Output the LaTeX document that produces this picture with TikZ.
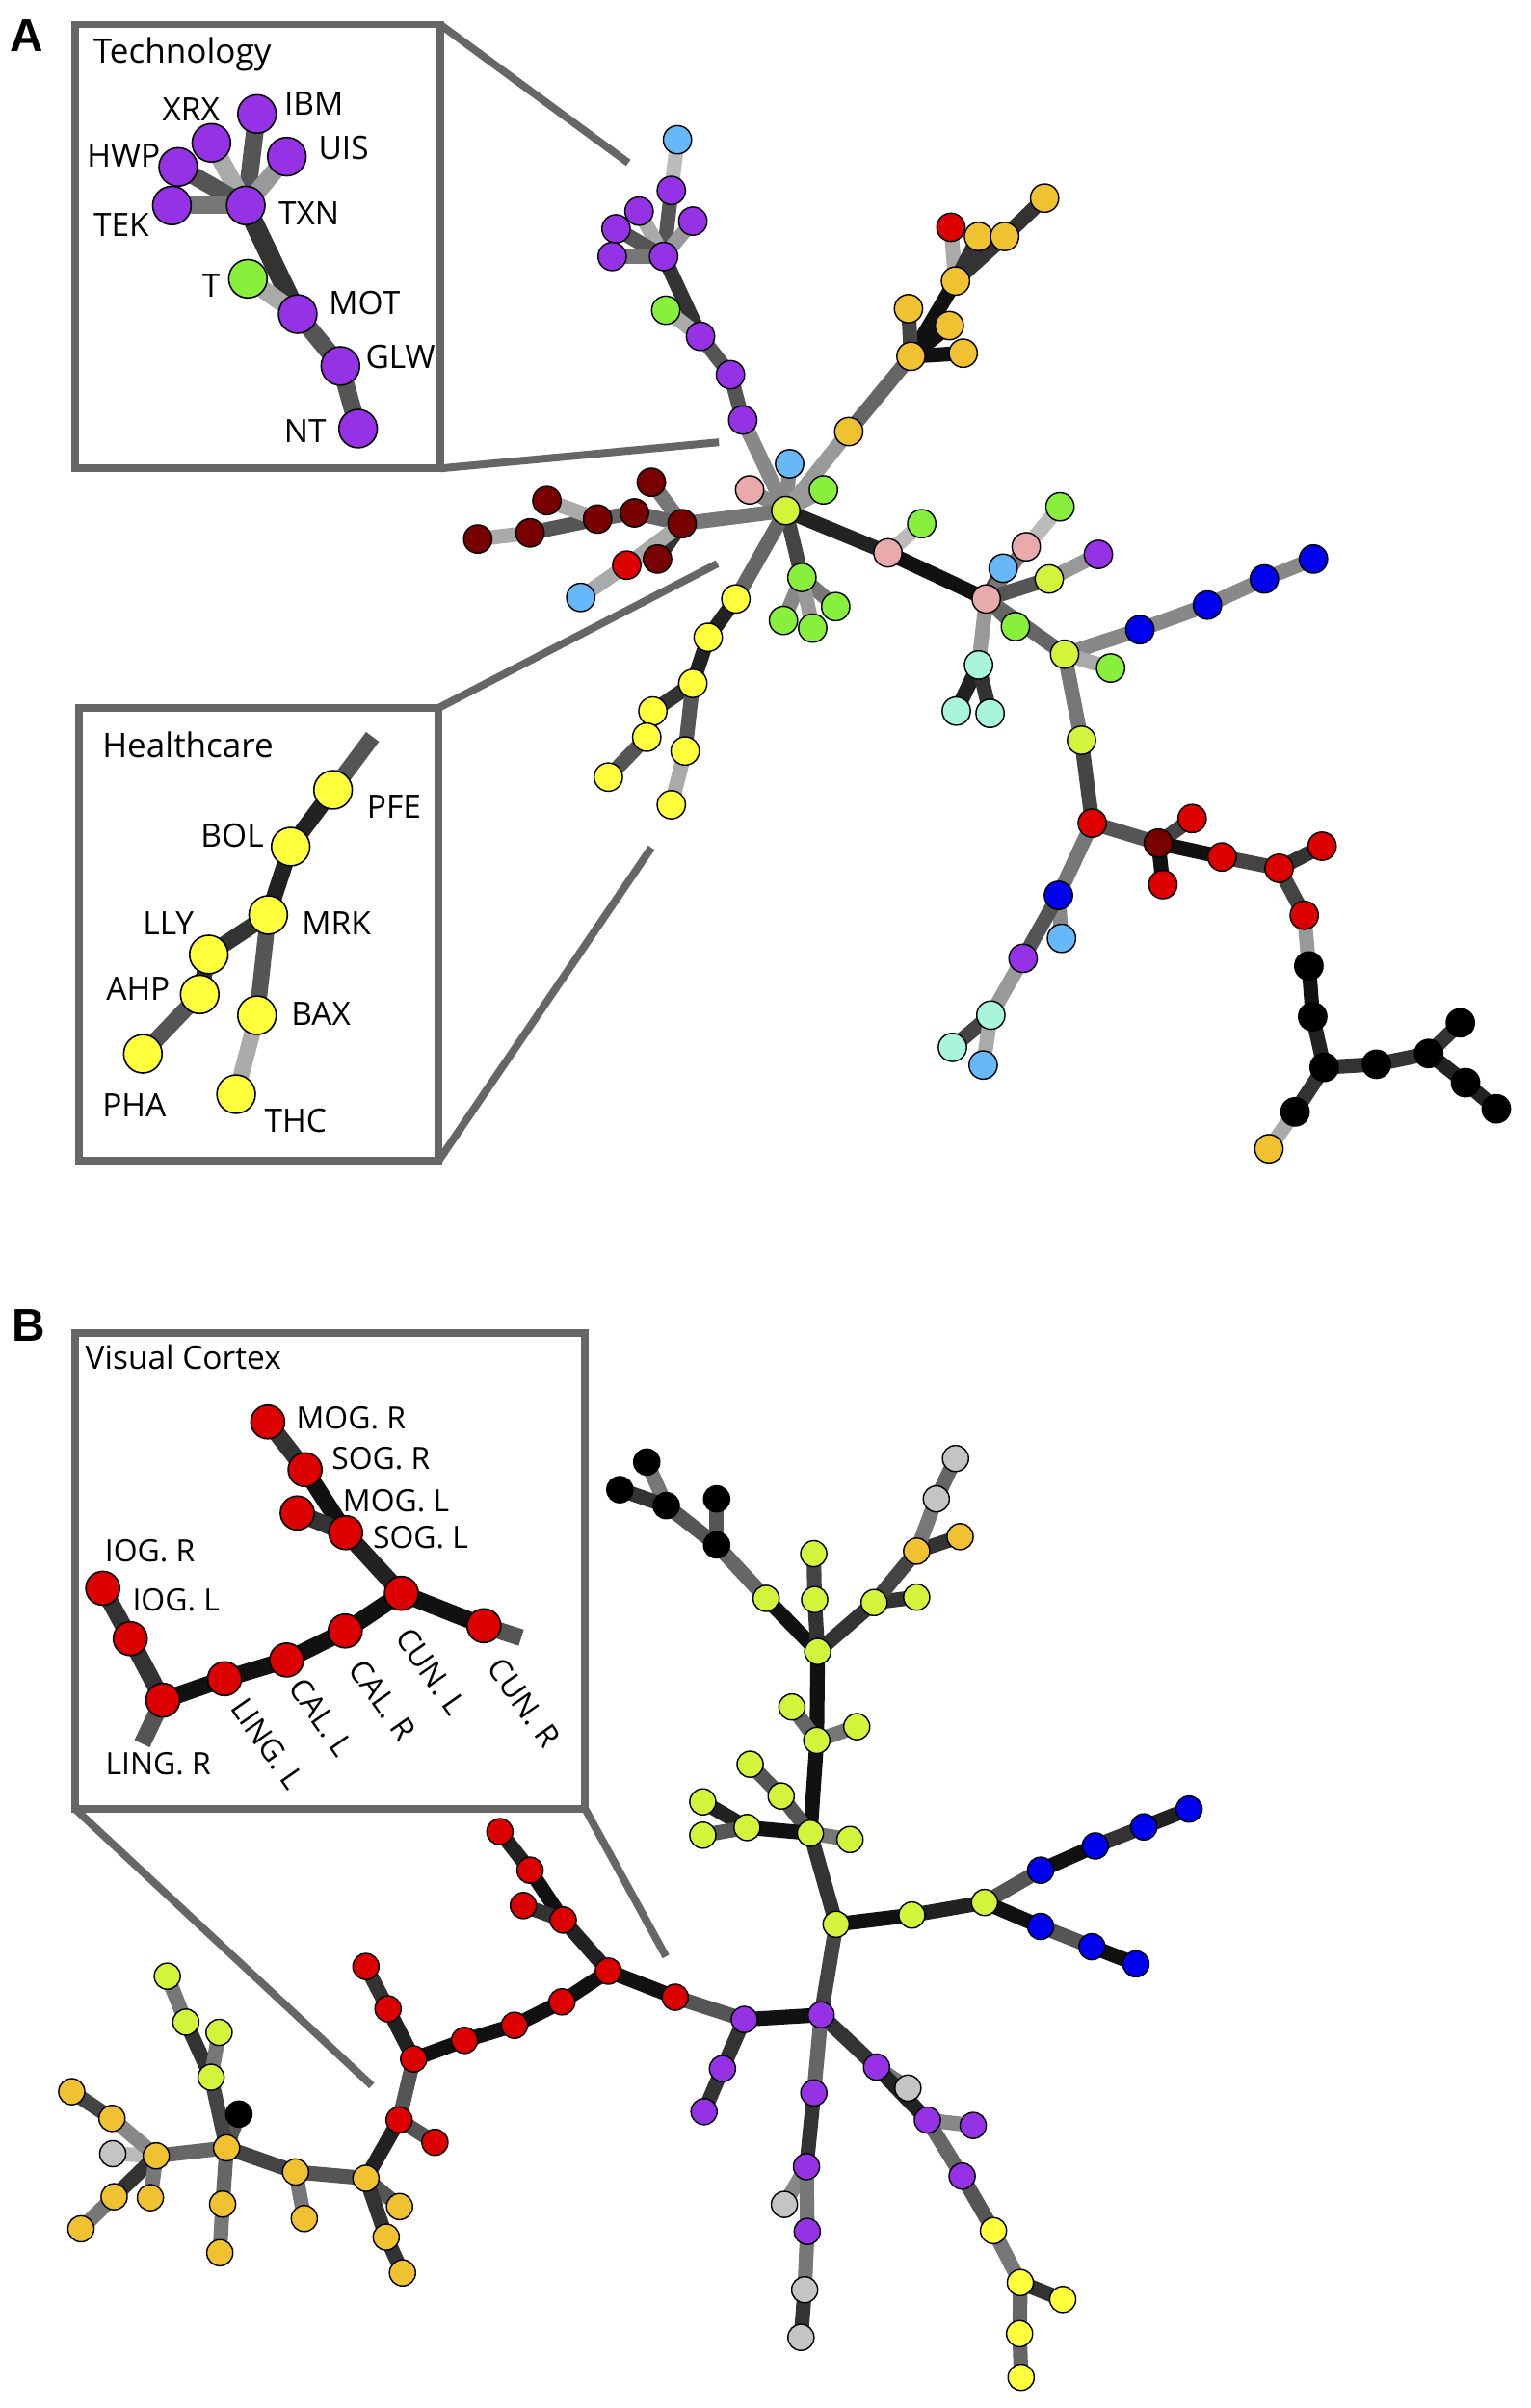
\documentclass[tikz,border=0pt]{standalone}
\usepackage{fontspec}
\setmainfont{Open Sans}
\newfontfamily\panelfont{Liberation Sans}
\definecolor{cpur}{HTML}{9632E6}
\definecolor{cyg}{HTML}{D2F53C}
\definecolor{cgrn}{HTML}{88F03C}
\definecolor{clb}{HTML}{66B8F8}
\definecolor{cpk}{HTML}{E8AAAA}
\definecolor{corg}{HTML}{F0C232}
\definecolor{cred}{HTML}{DD0000}
\definecolor{cdr}{HTML}{780000}
\definecolor{caq}{HTML}{A8F5DC}
\definecolor{cblu}{HTML}{0000EE}
\definecolor{cblk}{HTML}{000000}
\definecolor{cyel}{HTML}{FFFF3C}
\definecolor{cgry}{HTML}{C4C4C4}
\definecolor{e1}{HTML}{111111}
\definecolor{e2}{HTML}{222222}
\definecolor{e3}{HTML}{333333}
\definecolor{e4}{HTML}{444444}
\definecolor{e5}{HTML}{555555}
\definecolor{e6}{HTML}{666666}
\definecolor{e7}{HTML}{777777}
\definecolor{e8}{HTML}{888888}
\definecolor{e9}{HTML}{999999}
\definecolor{ea}{HTML}{AAAAAA}
\definecolor{eb}{HTML}{BBBBBB}
\definecolor{boxc}{HTML}{666666}
\pgfdeclarelayer{edges}
\pgfsetlayers{edges,main}
\newcommand\nd[5][na]{\node[#1,fill=#3] (#2) at (#4,#5) {};}
\newcommand\edg[4][9.5pt]{\draw[line width=#1,draw=#2] (#3.center)--(#4.center);}
\tikzset{
  na/.style={circle,draw=black,line width=0.9pt,inner sep=0pt,minimum size=18.4pt},
  nbb/.style={circle,draw=black,line width=0.9pt,inner sep=0pt,minimum size=17pt},
  ni/.style={circle,draw=black,line width=1pt,inner sep=0pt,minimum size=25pt},
  nv/.style={circle,draw=black,line width=1pt,inner sep=0pt,minimum size=22pt},
  lab/.style={font=\fontsize{21}{25}\selectfont,inner sep=0pt},
  labv/.style={font=\fontsize{20}{24}\selectfont,inner sep=0pt},
  ttl/.style={font=\fontsize{22}{26}\selectfont,inner sep=0pt,anchor=base west},
  pnl/.style={font=\panelfont\bfseries\fontsize{30}{34}\selectfont,inner sep=0pt},
  boxl/.style={draw=boxc,line width=5pt},
}
\begin{document}
\begin{tikzpicture}[x=1pt,y=-1pt]
\useasboundingbox (0,0) rectangle (996,1568);

% ================= PANEL A =================
\node[pnl] (lblA) at (17.6,23) {A};

% Technology inset box
\coordinate (tb1) at (49,16);
\coordinate (tb2) at (286.5,16);
\coordinate (tb3) at (286.5,305);
\coordinate (tb4) at (49,305);
\coordinate (tl1) at (409,106);
\coordinate (tl2) at (468,288);
\draw[boxl] (tb1) -- (tb2) -- (tb3) -- (tb4) -- cycle;
\draw[boxl] (tb2) -- (tl1);
\draw[boxl] (tb3) -- (tl2);
\node[ttl] (ttech) at (60.6,40.8) {Technology};

\nd[ni]{t_ibm}{cpur}{167.3}{74.2}
\nd[ni]{t_xrx}{cpur}{137.6}{93}
\nd[ni]{t_uis}{cpur}{186.7}{102}
\nd[ni]{t_hwp}{cpur}{116}{108.7}
\nd[ni]{t_tek}{cpur}{111.9}{133.8}
\nd[ni]{t_txn}{cpur}{160}{133.8}
\nd[ni]{t_t}{cgrn}{161.4}{181.5}
\nd[ni]{t_mot}{cpur}{193.8}{204.5}
\nd[ni]{t_glw}{cpur}{221.6}{238.3}
\nd[ni]{t_nt}{cpur}{233.1}{279.1}
\node[lab] (lt_ibm) at (204.3,67.3) {IBM};
\node[lab] (lt_xrx) at (124.4,71.5) {XRX};
\node[lab] (lt_uis) at (223.7,96.6) {UIS};
\node[lab] (lt_hwp) at (80.5,101.4) {HWP};
\node[lab] (lt_tek) at (79,146.4) {TEK};
\node[lab] (lt_txn) at (201.1,139) {TXN};
\node[lab] (lt_t) at (137.4,186) {T};
\node[lab] (lt_mot) at (237.3,197.2) {MOT};
\node[lab] (lt_glw) at (260.7,232.5) {GLW};
\node[lab] (lt_nt) at (198.6,280.6) {NT};

% Healthcare inset box
\coordinate (hb1) at (51.6,461);
\coordinate (hb2) at (285.4,461);
\coordinate (hb3) at (285.4,756);
\coordinate (hb4) at (51.6,756);
\coordinate (hl1) at (467,367);
\coordinate (hl2) at (424,552);
\draw[boxl] (hb1) -- (hb2) -- (hb3) -- (hb4) -- cycle;
\draw[boxl] (hb2) -- (hl1);
\draw[boxl] (hb3) -- (hl2);
\node[ttl] (thealth) at (66.5,493) {Healthcare};
\coordinate (h_top) at (242.5,479.8);
\nd[ni]{h_pfe}{cyel}{216.8}{514.3}
\nd[ni]{h_bol}{cyel}{189.2}{551.3}
\nd[ni]{h_mrk}{cyel}{174.6}{595.8}
\nd[ni]{h_lly}{cyel}{135.9}{621.5}
\nd[ni]{h_ahp}{cyel}{130}{647.5}
\nd[ni]{h_bax}{cyel}{167.3}{661.1}
\nd[ni]{h_pha}{cyel}{93}{686.2}
\nd[ni]{h_thc}{cyel}{153.7}{712.5}
\node[lab] (lh_pfe) at (256.5,525) {PFE};
\node[lab] (lh_bol) at (151.2,544.4) {BOL};
\node[lab] (lh_mrk) at (219,601) {MRK};
\node[lab] (lh_lly) at (109.6,601) {LLY};
\node[lab] (lh_ahp) at (89.9,644) {AHP};
\node[lab] (lh_bax) at (209,660) {BAX};
\node[lab] (lh_pha) at (87.4,719.4) {PHA};
\node[lab] (lh_thc) at (192.4,729.6) {THC};

% main graph A
\nd{a_lb1}{clb}{441}{91}
\nd{a_ibm}{cpur}{437}{124}
\nd{a_xrx}{cpur}{416}{137.5}
\nd{a_hwp}{cpur}{401}{149}
\nd{a_uis}{cpur}{451}{144}
\nd{a_tek}{cpur}{398.5}{167}
\nd{a_txn}{cpur}{432}{167}
\nd{a_t}{cgrn}{433.4}{202}
\nd{a_mot}{cpur}{456}{219}
\nd{a_glw}{cpur}{475.5}{244}
\nd{a_nt}{cpur}{483.5}{273.5}
\nd{hub}{cyg}{511.5}{332.5}
\nd{a_pk1}{cpk}{488}{319}
\nd{a_lb2}{clb}{514}{302}
\nd{a_g1}{cgrn}{536}{319}
\nd{a_o1}{corg}{552.5}{281}
\nd{a_o2}{corg}{593}{232}
\nd{a_o3}{corg}{627}{230}
\nd{a_o4}{corg}{618}{212}
\nd{a_o5}{corg}{591.4}{201}
\nd{a_o6}{corg}{622}{183}
\nd{a_r1}{cred}{619}{148}
\nd{a_o7}{corg}{637}{154}
\nd{a_o8}{corg}{654}{154}
\nd{a_o9}{corg}{680}{129}
\nd{a_d1}{cdr}{444}{341}
\nd{a_d2}{cdr}{424}{314}
\nd{a_d3}{cdr}{413}{334}
\nd{a_d4}{cdr}{389}{338}
\nd{a_d5}{cdr}{356}{326}
\nd{a_d6}{cdr}{345}{347}
\nd{a_d7}{cdr}{311}{351}
\nd{a_d8}{cdr}{428}{364}
\nd{a_r2}{cred}{408}{368}
\nd{a_lb3}{clb}{378}{389}
\nd{a_g2}{cgrn}{522}{376}
\nd{a_g3}{cgrn}{544}{395}
\nd{a_g4}{cgrn}{510}{404}
\nd{a_g5}{cgrn}{529}{409}
\nd{a_pfe}{cyel}{479}{390}
\nd{a_bol}{cyel}{461}{415}
\nd{a_mrk}{cyel}{451}{445}
\nd{a_lly}{cyel}{425}{463}
\nd{a_ahp}{cyel}{421}{480}
\nd{a_pha}{cyel}{396}{506}
\nd{a_bax}{cyel}{446}{489}
\nd{a_thc}{cyel}{437}{524}
\nd{a_pk2}{cpk}{578}{360}
\nd{a_g6}{cgrn}{600}{341}
\nd{a_pk3}{cpk}{642}{390}
\nd{a_pk4}{cpk}{668}{356}
\nd{a_g7}{cgrn}{690}{330}
\nd{a_lb4}{clb}{653}{370}
\nd{a_yg1}{cyg}{683}{377}
\nd{a_pu1}{cpur}{715}{361}
\nd{a_g8}{cgrn}{661}{408}
\nd{a_yg2}{cyg}{693}{426}
\nd{a_b1}{cblu}{742}{410}
\nd{a_b2}{cblu}{786}{394}
\nd{a_b3}{cblu}{823}{377}
\nd{a_b4}{cblu}{855}{364}
\nd{a_g9}{cgrn}{723}{435}
\nd{a_aq1}{caq}{637}{433}
\nd{a_aq2}{caq}{622.5}{463}
\nd{a_aq3}{caq}{644.5}{464.5}
\nd{a_yg3}{cyg}{704}{482}
\nd{a_r3}{cred}{711}{536}
\nd{a_dr}{cdr}{754}{549}
\nd{a_r4}{cred}{776}{533}
\nd{a_r5}{cred}{757}{576}
\nd{a_r6}{cred}{795.5}{558}
\nd{a_r7}{cred}{832.6}{565.4}
\nd{a_r8}{cred}{860.6}{551}
\nd{a_r9}{cred}{849}{596}
\nd{a_k1}{cblk}{852}{629}
\nd{a_k2}{cblk}{854.5}{662}
\nd{a_k3}{cblk}{862}{695}
\nd{a_k4}{cblk}{896}{693}
\nd{a_k5}{cblk}{930}{686}
\nd{a_k6}{cblk}{950.6}{666}
\nd{a_k7}{cblk}{954}{705}
\nd{a_k8}{cblk}{974}{722}
\nd{a_k9}{cblk}{843}{724}
\nd{a_o10}{corg}{826}{748}
\nd{a_b5}{cblu}{689}{583}
\nd{a_lb5}{clb}{691}{611}
\nd{a_pu2}{cpur}{666}{624}
\nd{a_aq4}{caq}{645}{661}
\nd{a_aq5}{caq}{620}{682}
\nd{a_lb6}{clb}{640}{693.5}

% ================= PANEL B =================
\node[pnl] (lblB) at (18.5,863) {B};
\coordinate (vb1) at (49,868);
\coordinate (vb2) at (381,868);
\coordinate (vb3) at (381,1178);
\coordinate (vb4) at (49,1178);
\coordinate (vl1) at (242,1358);
\coordinate (vl2) at (433.5,1274);
\draw[boxl] (vb1) -- (vb2) -- (vb3) -- (vb4) -- cycle;
\draw[boxl] (vb4) -- (vl1);
\draw[boxl] (vb3) -- (vl2);
\node[ttl,font=\fontsize{21}{25}\selectfont] (tvis) at (55.4,891.8) {Visual Cortex};
\coordinate (v_cunrs) at (339.3,1066.4);
\coordinate (v_lingrs) at (92.5,1135.4);
\nd[nv]{v_mogr}{cred}{174.3}{925.9}
\nd[nv]{v_sogr}{cred}{198.6}{957}
\nd[nv]{v_mogl}{cred}{193.5}{985.2}
\nd[nv]{v_sogl}{cred}{225}{998}
\nd[nv]{v_iogr}{cred}{66.9}{1034.2}
\nd[nv]{v_iogl}{cred}{84.8}{1067}
\nd[nv]{v_cunl}{cred}{261.3}{1037.5}
\nd[nv]{v_cunr}{cred}{315}{1058.6}
\nd[nv]{v_calr}{cred}{224.7}{1062}
\nd[nv]{v_call}{cred}{186.6}{1080.9}
\nd[nv]{v_lingl}{cred}{146.2}{1093.1}
\nd[nv]{v_lingr}{cred}{106}{1107.1}
\node[labv] (lv_mogr) at (228.5,923.5) {MOG. R};
\node[labv] (lv_sogr) at (248,949.7) {SOG. R};
\node[labv] (lv_mogl) at (257.8,977.5) {MOG. L};
\node[labv] (lv_sogl) at (273.8,1000.8) {SOG. L};
\node[labv] (lv_iogr) at (97.6,1009.8) {IOG. R};
\node[labv] (lv_iogl) at (114.6,1042) {IOG. L};
\node[labv] (lv_lingr) at (103,1148.2) {LING. R};
\node[labv,rotate=-55] (lv_lingl) at (174.3,1135.4) {LING. L};
\node[labv,rotate=-55] (lv_call) at (209.4,1118.2) {CAL. L};
\node[labv,rotate=-55] (lv_calr) at (249,1106.9) {CAL. R};
\node[labv,rotate=-55] (lv_cunl) at (280.5,1088.2) {CUN. L};
\node[labv,rotate=-55] (lv_cunr) at (341.1,1108.7) {CUN. R};

% main graph B
\nd[nbb]{b_k1}{cblk}{421}{952}
\nd[nbb]{b_k2}{cblk}{403.5}{970}
\nd[nbb]{b_k3}{cblk}{433.7}{980.4}
\nd[nbb]{b_k4}{cblk}{466.5}{976}
\nd[nbb]{b_k5}{cblk}{466.5}{1006}
\nd[nbb]{b_s1}{cgry}{622}{949.7}
\nd[nbb]{b_s2}{cgry}{609.5}{976}
\nd[nbb]{b_o1}{corg}{625}{1000.6}
\nd[nbb]{b_o2}{corg}{596.7}{1010}
\nd[nbb]{b_y1}{cyg}{529.7}{1011.7}
\nd[nbb]{b_y2}{cyg}{498.7}{1040.8}
\nd[nbb]{b_y3}{cyg}{530.3}{1041.6}
\nd[nbb]{b_y4}{cyg}{569}{1043.5}
\nd[nbb]{b_y5}{cyg}{596.7}{1040}
\nd[nbb]{b_y6}{cyg}{532.3}{1075.4}
\nd[nbb]{b_y7}{cyg}{515.5}{1111.5}
\nd[nbb]{b_y8}{cyg}{531.7}{1133.3}
\nd[nbb]{b_y9}{cyg}{557.7}{1124.3}
\nd[nbb]{b_y10}{cyg}{488.3}{1148.8}
\nd[nbb]{b_y11}{cyg}{508.5}{1169.5}
\nd[nbb]{b_y12}{cyg}{457.5}{1173.3}
\nd[nbb]{b_y13}{cyg}{457.5}{1195}
\nd[nbb]{b_y14}{cyg}{486.3}{1190}
\nd[nbb]{b_y15}{cyg}{527.5}{1193.7}
\nd[nbb]{b_y16}{cyg}{553.3}{1197.8}
\nd[nbb]{b_y17}{cyg}{544.3}{1253}
\nd[nbb]{b_y18}{cyg}{593.6}{1247}
\nd[nbb]{b_y19}{cyg}{640.9}{1238.8}
\nd[nbb]{b_b1}{cblu}{677.4}{1217.8}
\nd[nbb]{b_b2}{cblu}{713}{1202}
\nd[nbb]{b_b3}{cblu}{744.6}{1189.6}
\nd[nbb]{b_b4}{cblu}{774}{1178}
\nd[nbb]{b_b5}{cblu}{677.4}{1254.4}
\nd[nbb]{b_b6}{cblu}{710.8}{1267.6}
\nd[nbb]{b_b7}{cblu}{739.4}{1278.8}
\nd[nbb]{b_p1}{cpur}{484.5}{1315}
\nd[nbb]{b_p2}{cpur}{534.5}{1312}
\nd[nbb]{b_p3}{cpur}{470.3}{1347}
\nd[nbb]{b_p4}{cpur}{458.3}{1375}
\nd[nbb]{b_p5}{cpur}{570.6}{1346}
\nd[nbb]{b_s3}{cgry}{591}{1359.7}
\nd[nbb]{b_p6}{cpur}{603.7}{1380.5}
\nd[nbb]{b_p7}{cpur}{633.5}{1384}
\nd[nbb]{b_p8}{cpur}{626.3}{1417}
\nd[nbb]{b_w1}{cyel}{646.7}{1452.5}
\nd[nbb]{b_w2}{cyel}{664.2}{1486.3}
\nd[nbb]{b_w3}{cyel}{691.8}{1497.3}
\nd[nbb]{b_w4}{cyel}{663.7}{1519.6}
\nd[nbb]{b_w5}{cyel}{664.7}{1548}
\nd[nbb]{b_p9}{cpur}{529.8}{1362.8}
\nd[nbb]{b_p10}{cpur}{525}{1410.8}
\nd[nbb]{b_s4}{cgry}{510.6}{1435.4}
\nd[nbb]{b_p11}{cpur}{525.5}{1453}
\nd[nbb]{b_s5}{cgry}{523.8}{1491}
\nd[nbb]{b_s6}{cgry}{521.4}{1522}
\nd[nbb]{b_r1}{cred}{325.4}{1192.7}
\nd[nbb]{b_r2}{cred}{345}{1217.8}
\nd[nbb]{b_r3}{cred}{340.7}{1240.8}
\nd[nbb]{b_r4}{cred}{366.6}{1250.2}
\nd[nbb]{b_r5}{cred}{396}{1283.5}
\nd[nbb]{b_r6}{cred}{439.5}{1300.5}
\nd[nbb]{b_r7}{cred}{365.8}{1303.5}
\nd[nbb]{b_r8}{cred}{334.9}{1318.8}
\nd[nbb]{b_r9}{cred}{302.4}{1328.6}
\nd[nbb]{b_r10}{cred}{269.3}{1340.7}
\nd[nbb]{b_r11}{cred}{238.2}{1280.5}
\nd[nbb]{b_r12}{cred}{252.6}{1308.1}
\nd[nbb]{b_r13}{cred}{259.8}{1380.4}
\nd[nbb]{b_r14}{cred}{283.1}{1395}
\nd[nbb]{b_o3}{corg}{238.2}{1418.4}
\nd[nbb]{b_o4}{corg}{260.1}{1436.8}
\nd[nbb]{b_o5}{corg}{251.4}{1456.7}
\nd[nbb]{b_o6}{corg}{262}{1480}
\nd[nbb]{b_o7}{corg}{192.4}{1414.3}
\nd[nbb]{b_o8}{corg}{198.1}{1444.6}
\nd[nbb]{b_o9}{corg}{147.5}{1398.6}
\nd[nbb]{b_o10}{corg}{144.9}{1435.2}
\nd[nbb]{b_o11}{corg}{143.1}{1466.9}
\nd[nbb]{b_k6}{cblk}{155.5}{1376.6}
\nd[nbb]{b_y20}{cyg}{137.4}{1352.6}
\nd[nbb]{b_y21}{cyg}{121}{1316.7}
\nd[nbb]{b_y22}{cyg}{142.6}{1323.4}
\nd[nbb]{b_y23}{cyg}{108.9}{1286.8}
\nd[nbb]{b_o12}{corg}{101.7}{1403.8}
\nd[nbb]{b_s7}{cgry}{73.4}{1402.4}
\nd[nbb]{b_o13}{corg}{72.9}{1379.4}
\nd[nbb]{b_o14}{corg}{46.7}{1362}
\nd[nbb]{b_o15}{corg}{74.3}{1430.4}
\nd[nbb]{b_o16}{corg}{52.7}{1451.3}
\nd[nbb]{b_o17}{corg}{97.9}{1431}

\begin{pgfonlayer}{edges}
% Technology inset
\edg[11.5pt]{e5}{t_ibm}{t_txn}
\edg[11.5pt]{ea}{t_xrx}{t_txn}
\edg[11.5pt]{e9}{t_uis}{t_txn}
\edg[11.5pt]{e5}{t_hwp}{t_txn}
\edg[11.5pt]{e7}{t_tek}{t_txn}
\edg[12.5pt]{e3}{t_txn}{t_mot}
\edg[11.5pt]{ea}{t_t}{t_mot}
\edg[11.5pt]{e5}{t_mot}{t_glw}
\edg[11.5pt]{e5}{t_glw}{t_nt}
% Healthcare inset
\edg[10.5pt]{e5}{h_top}{h_pfe}
\edg[10.5pt]{e2}{h_pfe}{h_bol}
\edg[10.5pt]{e2}{h_bol}{h_mrk}
\edg[10.5pt]{e3}{h_mrk}{h_lly}
\edg[10.5pt]{e3}{h_lly}{h_ahp}
\edg[10.5pt]{e5}{h_ahp}{h_pha}
\edg[10.5pt]{e5}{h_mrk}{h_bax}
\edg[10.5pt]{ea}{h_bax}{h_thc}
% main A
\edg{eb}{a_lb1}{a_ibm}
\edg{e5}{a_ibm}{a_txn}
\edg{ea}{a_xrx}{a_txn}
\edg{e9}{a_uis}{a_txn}
\edg{e5}{a_hwp}{a_txn}
\edg{e7}{a_tek}{a_txn}
\edg{e3}{a_txn}{a_mot}
\edg{ea}{a_t}{a_mot}
\edg{e5}{a_mot}{a_glw}
\edg{e5}{a_glw}{a_nt}
\edg{e8}{a_nt}{hub}
\edg{e8}{hub}{a_pk1}
\edg{e8}{hub}{a_lb2}
\edg{e9}{hub}{a_g1}
\edg{e9}{hub}{a_o1}
\edg{e6}{a_o1}{a_o2}
\edg{e1}{a_o2}{a_o6}
\edg{e4}{a_o2}{a_o5}
\edg{e1}{a_o2}{a_o4}
\edg{e1}{a_o2}{a_o3}
\edg{ea}{a_o6}{a_r1}
\edg{e3}{a_o6}{a_o7}
\edg{e3}{a_o6}{a_o8}
\edg{e3}{a_o8}{a_o9}
\edg{e7}{hub}{a_d1}
\edg{e7}{a_d1}{a_d2}
\edg{e6}{a_d1}{a_d3}
\edg{e6}{a_d3}{a_d4}
\edg{e5}{a_d4}{a_d6}
\edg{ea}{a_d5}{a_d4}
\edg{ea}{a_d6}{a_d7}
\edg{e3}{a_d1}{a_d8}
\edg{ea}{a_d1}{a_r2}
\edg{ea}{a_r2}{a_lb3}
\edg{e4}{hub}{a_g2}
\edg{e7}{a_g2}{a_g3}
\edg{e8}{a_g2}{a_g4}
\edg{e9}{a_g2}{a_g5}
\edg{e6}{hub}{a_pfe}
\edg{e2}{a_pfe}{a_bol}
\edg{e2}{a_bol}{a_mrk}
\edg{e3}{a_mrk}{a_lly}
\edg{e3}{a_lly}{a_ahp}
\edg{e5}{a_ahp}{a_pha}
\edg{e5}{a_mrk}{a_bax}
\edg{ea}{a_bax}{a_thc}
\edg{e2}{hub}{a_pk2}
\edg{eb}{a_pk2}{a_g6}
\edg{e1}{a_pk2}{a_pk3}
\edg{e4}{a_pk3}{a_lb4}
\edg{e7}{a_pk3}{a_pk4}
\edg{eb}{a_pk4}{a_g7}
\edg{e5}{a_pk3}{a_yg1}
\edg{e9}{a_yg1}{a_pu1}
\edg{e6}{a_pk3}{a_g8}
\edg{e6}{a_pk3}{a_yg2}
\edg{e8}{a_yg2}{a_b1}
\edg{e8}{a_b1}{a_b2}
\edg{e8}{a_b2}{a_b3}
\edg{e8}{a_b3}{a_b4}
\edg{ea}{a_yg2}{a_g9}
\edg{e9}{a_pk3}{a_aq1}
\edg{e2}{a_aq1}{a_aq2}
\edg{e3}{a_aq1}{a_aq3}
\edg{e7}{a_yg2}{a_yg3}
\edg{e4}{a_yg3}{a_r3}
\edg{e5}{a_r3}{a_dr}
\edg{e4}{a_dr}{a_r4}
\edg{e1}{a_dr}{a_r5}
\edg{e1}{a_dr}{a_r6}
\edg{e4}{a_r6}{a_r7}
\edg{e3}{a_r7}{a_r8}
\edg{e4}{a_r7}{a_r9}
\edg{e9}{a_r9}{a_k1}
\edg{e1}{a_k1}{a_k2}
\edg{e2}{a_k2}{a_k3}
\edg{e3}{a_k3}{a_k4}
\edg{e3}{a_k4}{a_k5}
\edg{e3}{a_k5}{a_k6}
\edg{e2}{a_k5}{a_k7}
\edg{e2}{a_k7}{a_k8}
\edg{e3}{a_k3}{a_k9}
\edg{ea}{a_k9}{a_o10}
\edg{e7}{a_r3}{a_b5}
\edg{e8}{a_b5}{a_lb5}
\edg{e5}{a_b5}{a_pu2}
\edg{e9}{a_pu2}{a_aq4}
\edg{e4}{a_aq4}{a_aq5}
\edg{ea}{a_aq4}{a_lb6}
% Visual cortex inset
\edg[11pt]{e3}{v_mogr}{v_sogr}
\edg[11pt]{e1}{v_sogr}{v_sogl}
\edg[11pt]{e3}{v_mogl}{v_sogl}
\edg[11pt]{e2}{v_sogl}{v_cunl}
\edg[11pt]{e1}{v_cunl}{v_cunr}
\edg[11pt]{e5}{v_cunr}{v_cunrs}
\edg[11pt]{e1}{v_cunl}{v_calr}
\edg[11pt]{e1}{v_calr}{v_call}
\edg[11pt]{e1}{v_call}{v_lingl}
\edg[11pt]{e1}{v_lingl}{v_lingr}
\edg[11pt]{e3}{v_lingr}{v_iogl}
\edg[11pt]{e3}{v_iogl}{v_iogr}
\edg[11pt]{e5}{v_lingr}{v_lingrs}
% main B
\edg{e7}{b_k1}{b_k3}
\edg{e3}{b_k2}{b_k3}
\edg{e5}{b_k3}{b_k5}
\edg{e5}{b_k4}{b_k5}
\edg{e6}{b_k5}{b_y2}
\edg{e1}{b_y2}{b_y6}
\edg{e4}{b_y1}{b_y3}
\edg{e3}{b_y3}{b_y6}
\edg{e3}{b_y4}{b_y6}
\edg{e3}{b_y4}{b_y5}
\edg{e4}{b_y4}{b_o2}
\edg{e3}{b_o2}{b_o1}
\edg{e7}{b_o2}{b_s2}
\edg{e6}{b_s2}{b_s1}
\edg{e1}{b_y6}{b_y8}
\edg{e6}{b_y8}{b_y7}
\edg{e7}{b_y8}{b_y9}
\edg{e1}{b_y8}{b_y15}
\edg{e5}{b_y15}{b_y11}
\edg{e5}{b_y11}{b_y10}
\edg{e1}{b_y15}{b_y14}
\edg{e2}{b_y14}{b_y12}
\edg{e5}{b_y14}{b_y13}
\edg{e7}{b_y15}{b_y16}
\edg{e3}{b_y15}{b_y17}
\edg{e1}{b_y17}{b_y18}
\edg{e2}{b_y18}{b_y19}
\edg{e5}{b_y19}{b_b1}
\edg{e1}{b_b1}{b_b2}
\edg{e3}{b_b2}{b_b3}
\edg{e2}{b_b3}{b_b4}
\edg{e1}{b_y19}{b_b5}
\edg{e5}{b_b5}{b_b6}
\edg{e1}{b_b6}{b_b7}
\edg{e4}{b_y17}{b_p2}
\edg{e1}{b_p1}{b_p2}
\edg{e5}{b_r6}{b_p1}
\edg{e3}{b_p1}{b_p3}
\edg{e3}{b_p3}{b_p4}
\edg{e3}{b_p2}{b_p5}
\edg{e7}{b_p5}{b_s3}
\edg{e2}{b_p5}{b_p6}
\edg{e8}{b_p6}{b_p7}
\edg{e6}{b_p6}{b_p8}
\edg{e5}{b_p8}{b_w1}
\edg{e7}{b_w1}{b_w2}
\edg{e3}{b_w2}{b_w3}
\edg{e6}{b_w2}{b_w4}
\edg{e6}{b_w4}{b_w5}
\edg{e6}{b_p2}{b_p9}
\edg{e3}{b_p9}{b_p10}
\edg{e8}{b_p10}{b_s4}
\edg{e7}{b_p10}{b_p11}
\edg{e7}{b_p11}{b_s5}
\edg{e3}{b_s5}{b_s6}
\edg{e2}{b_r1}{b_r2}
\edg{e1}{b_r2}{b_r4}
\edg{e3}{b_r3}{b_r4}
\edg{e2}{b_r4}{b_r5}
\edg{e1}{b_r5}{b_r6}
\edg{e1}{b_r5}{b_r7}
\edg{e1}{b_r7}{b_r8}
\edg{e1}{b_r8}{b_r9}
\edg{e1}{b_r9}{b_r10}
\edg{e2}{b_r10}{b_r12}
\edg{e3}{b_r12}{b_r11}
\edg{e5}{b_r10}{b_r13}
\edg{e5}{b_r13}{b_r14}
\edg{e2}{b_r13}{b_o3}
\edg{e5}{b_o3}{b_o4}
\edg{e3}{b_o3}{b_o5}
\edg{e3}{b_o5}{b_o6}
\edg{e5}{b_o3}{b_o7}
\edg{e7}{b_o7}{b_o8}
\edg{e4}{b_o7}{b_o9}
\edg{e6}{b_o9}{b_o10}
\edg{e7}{b_o10}{b_o11}
\edg{e5}{b_o9}{b_k6}
\edg{e4}{b_o9}{b_y20}
\edg{e3}{b_y20}{b_y21}
\edg{e7}{b_y21}{b_y23}
\edg{e7}{b_y20}{b_y22}
\edg{e6}{b_o9}{b_o12}
\edg{eb}{b_o12}{b_s7}
\edg{e8}{b_o12}{b_o13}
\edg{e4}{b_o13}{b_o14}
\edg{e3}{b_o12}{b_o15}
\edg{e7}{b_o15}{b_o16}
\edg{e7}{b_o12}{b_o17}
\end{pgfonlayer}
\end{tikzpicture}
\end{document}
